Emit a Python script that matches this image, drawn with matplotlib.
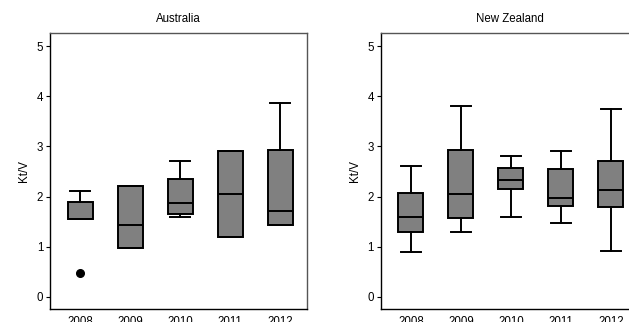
import matplotlib
matplotlib.use("Agg")
import matplotlib.pyplot as plt

plt.rcParams['font.family'] = ['Liberation Sans', 'DejaVu Sans']

years = ['2008', '2009', '2010', '2011', '2012']

# Australia: whislo, q1, median, q3, whishi, outliers
aus_whislo = [1.55, 0.97, 1.60, 1.20, 1.43]
aus_q1 = [1.55, 0.97, 1.65, 1.20, 1.43]
aus_med = [1.55, 1.43, 1.87, 2.05, 1.71]
aus_q3 = [1.90, 2.22, 2.36, 2.90, 2.93]
aus_whishi = [2.11, 2.22, 2.71, 2.90, 3.86]
aus_fliers = [[0.48], [], [], [], []]

# New Zealand
nz_whislo = [0.90, 1.29, 1.59, 1.47, 0.92]
nz_q1 = [1.29, 1.57, 2.16, 1.82, 1.79]
nz_med = [1.59, 2.05, 2.34, 1.97, 2.14]
nz_q3 = [2.08, 2.92, 2.58, 2.56, 2.70]
nz_whishi = [2.60, 3.80, 2.80, 2.90, 3.74]
nz_fliers = [[], [], [], [], []]


def make_stats(lo, q1, med, q3, hi, fl):
    out = []
    for i in range(len(years)):
        out.append(dict(label=years[i], whislo=lo[i], q1=q1[i], med=med[i],
                        q3=q3[i], whishi=hi[i], fliers=fl[i]))
    return out


fig = plt.figure(figsize=(6.29, 3.22), dpi=100)
ax1 = fig.add_axes([0.0795, 0.0404, 0.4086, 0.857])
ax2 = fig.add_axes([0.6057, 0.0404, 0.4086, 0.857])

panels = [
    (ax1, 'Australia', make_stats(aus_whislo, aus_q1, aus_med, aus_q3, aus_whishi, aus_fliers)),
    (ax2, 'New Zealand', make_stats(nz_whislo, nz_q1, nz_med, nz_q3, nz_whishi, nz_fliers)),
]

for ax, title, stats in panels:
    ax.bxp(stats, positions=range(len(years)), widths=0.5, capwidths=0.4,
           patch_artist=True, showfliers=True,
           boxprops=dict(facecolor='#808080', edgecolor='black', linewidth=1.4),
           medianprops=dict(color='black', linewidth=1.4),
           whiskerprops=dict(color='black', linewidth=1.4),
           capprops=dict(color='black', linewidth=1.4),
           flierprops=dict(marker='o', markerfacecolor='black',
                           markeredgecolor='black', markersize=5.5))
    ax.set_xlim(-0.6, 4.54)
    ax.set_ylim(-0.24, 5.26)
    ax.set_yticks([0, 1, 2, 3, 4, 5])
    ax.set_xticks(range(len(years)))
    ax.set_xticklabels(years)
    ax.tick_params(axis='x', length=0, labelsize=8.3, pad=5)
    ax.tick_params(axis='y', length=3, width=0.8, labelsize=8.3, pad=2)
    ax.set_ylabel('Kt/V', fontsize=8.3, labelpad=5)
    ax.set_title(title, fontsize=8.3, pad=8)
    ax.spines['left'].set_color('black')
    ax.spines['bottom'].set_color('black')
    ax.spines['top'].set_color('#555555')
    ax.spines['right'].set_color('#555555')
    for s in ax.spines.values():
        s.set_linewidth(1.0)

fig.savefig('out.png', dpi=100)
